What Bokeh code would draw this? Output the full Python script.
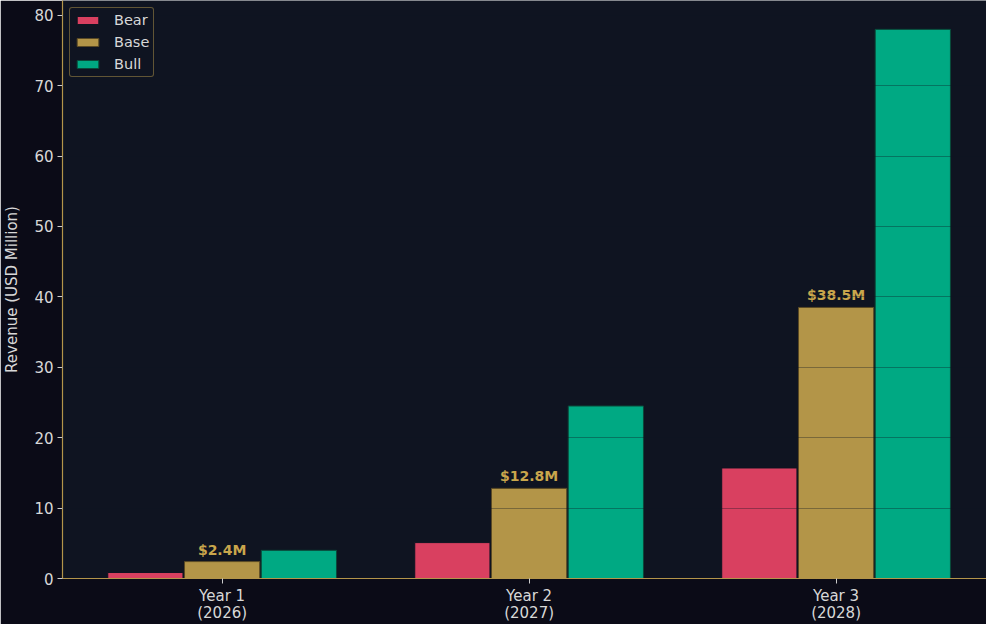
from bokeh.plotting import figure
from bokeh.models import ColumnDataSource, Range1d, FixedTicker, Legend, LegendItem
from bokeh.transform import dodge
from bokeh.core.properties import value
from bokeh.embed import file_html
from bokeh.resources import INLINE

years = ["Year 1\n(2026)", "Year 2\n(2027)", "Year 3\n(2028)"]
bear = [0.85, 5.1, 15.7]
base = [2.4, 12.8, 38.5]
bull = [4.0, 24.5, 78.0]
base_labels = ["$2.4M", "$12.8M", "$38.5M"]
y_ticks = [0, 10, 20, 30, 40, 50, 60, 70, 80]

FIG_BG = "#0b0b17"
PLOT_BG = "#0f1421"
GOLD = "#b3954a"
TXT = "#d8d8d8"
FONT = "DejaVu Sans"

xs = list(range(len(years)))
src = ColumnDataSource(dict(x=xs, bear=bear, base=base, bull=bull, lab=base_labels))

p = figure(width=986, height=624, output_backend="svg", toolbar_location=None,
           x_range=Range1d(-0.52, 2.49), y_range=Range1d(0, 82.1),
           min_border_top=0, min_border_right=0, min_border_left=10, min_border_bottom=0)
p.background_fill_color = PLOT_BG
p.border_fill_color = FIG_BG
p.outline_line_color = None

w = 0.245
r1 = p.vbar(x=dodge("x", -0.25), top="bear", width=w, source=src,
            fill_color="#d94060", line_color=PLOT_BG, line_width=1)
r2 = p.vbar(x=dodge("x", 0.0), top="base", width=w, source=src,
            fill_color="#b39548", line_color="#5a4a25", line_width=1)
r3 = p.vbar(x=dodge("x", 0.25), top="bull", width=w, source=src,
            fill_color="#00a983", line_color="#0a4a3a", line_width=1)

p.text(x="x", y="base", text="lab", source=src, text_align="center",
       text_baseline="bottom", y_offset=-4, text_color="#c9a64c",
       text_font=value(FONT), text_font_style="bold", text_font_size="14px")

# grid drawn over bars, faint
p.xgrid.grid_line_color = None
p.ygrid.ticker = FixedTicker(ticks=y_ticks)
p.ygrid.grid_line_color = "#0f1421"
p.ygrid.grid_line_alpha = 0.35
p.ygrid.level = "annotation"

# axes
p.xaxis.ticker = FixedTicker(ticks=xs)
p.xaxis.major_label_overrides = {i: years[i] for i in xs}
p.yaxis.ticker = FixedTicker(ticks=y_ticks)
p.yaxis.axis_label = "Revenue (USD Million)"
for ax in (p.xaxis[0], p.yaxis[0]):
    ax.axis_line_color = GOLD
    ax.axis_line_width = 1.2
    ax.major_tick_line_color = "#cccccc"
    ax.major_tick_out = 5
    ax.major_tick_in = 0
    ax.minor_tick_line_color = None
    ax.major_label_text_color = TXT
    ax.major_label_text_font = FONT
    ax.major_label_text_font_size = "15px"
    ax.axis_label_text_color = TXT
    ax.axis_label_text_font = FONT
    ax.axis_label_text_font_size = "15px"
    ax.axis_label_text_font_style = "normal"
p.xaxis.major_label_text_line_height = 0.95
p.xaxis.major_label_standoff = 3
p.yaxis.major_label_standoff = 4
p.yaxis.axis_label_standoff = 10

legend = Legend(items=[LegendItem(label="Bear", renderers=[r1]),
                       LegendItem(label="Base", renderers=[r2]),
                       LegendItem(label="Bull", renderers=[r3])],
                location="top_left")
legend.background_fill_color = PLOT_BG
legend.background_fill_alpha = 1.0
legend.border_line_color = GOLD
legend.border_line_width = 1.2
legend.border_radius = 3
legend.label_text_color = TXT
legend.label_text_font = FONT
legend.label_text_font_size = "14.5px"
legend.label_height = 16
legend.glyph_width = 27
legend.glyph_height = 10
legend.label_standoff = 13
legend.spacing = 6
legend.padding = 4
legend.margin = 7
p.add_layout(legend)

open("out.html", "w").write(file_html(p, INLINE))
